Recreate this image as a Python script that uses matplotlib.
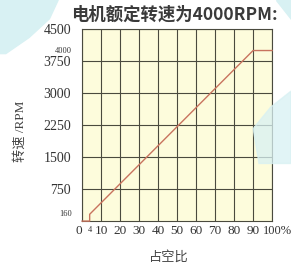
import matplotlib
matplotlib.use('Agg')
import matplotlib.pyplot as plt
from matplotlib.patches import Polygon

plt.rcParams['font.family'] = ['Liberation Serif', 'Noto Sans CJK SC']

# 数据
duty = [0, 4, 4, 90, 100]
rpm = [0, 0, 160, 4000, 4000]
x_ticks = [0, 10, 20, 30, 40, 50, 60, 70, 80, 90, 100]
x_labels = ['0', '10', '20', '30', '40', '50', '60', '70', '80', '90', '100%']
y_ticks = [750, 1500, 2250, 3000, 3750, 4500]
y_small = [160, 4000]

fig = plt.figure(figsize=(2.91, 2.68), dpi=100)
fig.patch.set_facecolor('white')

# 背景的浅蓝色块
blob = '#d8f1f3'
fig.patches.append(Polygon([(0, 1), (0.2, 1), (0.17, 0.93), (0.1, 0.86), (0.02, 0.8), (0, 0.8)],
                           closed=True, transform=fig.transFigure, color=blob, zorder=-1))
fig.patches.append(Polygon([(0.87, 0.52), (0.93, 0.6), (1, 0.66), (1, 0.39), (0.89, 0.39)],
                           closed=True, transform=fig.transFigure, color=blob, alpha=0.75, zorder=5))
fig.patches.append(Polygon([(0.95, 1), (1, 1), (1, 0.93)],
                           closed=True, transform=fig.transFigure, color=blob, zorder=-1))

ax = fig.add_axes([0.282, 0.175, 0.653, 0.716])
ax.set_facecolor('#fdfcdc')
ax.plot(duty, rpm, color='#c8735e', lw=1.0, zorder=3, clip_on=False)

ax.set_xlim(0, 100)
ax.set_ylim(0, 4500)
ax.set_xticks(x_ticks)
# 最后一个标签 100% 单独画, 往左挪一点
ax.set_xticklabels(x_labels[:-1] + [''], fontsize=9.5, color='#333333')
ax.get_xticklabels()[0].set_ha('right')
ax.annotate(x_labels[-1], xy=(x_ticks[-1], 0), xycoords=('data', 'axes fraction'),
            xytext=(-9, -4), textcoords='offset pixels', ha='left', va='top',
            fontsize=9, color='#333333', annotation_clip=False)
ax.set_yticks(y_ticks)
ax.set_yticklabels([str(v) for v in y_ticks], fontsize=10, color='#333333')
ax.tick_params(axis='y', length=0, pad=8)
ax.tick_params(axis='x', length=0, pad=3)
ax.grid(True, color='#4a4a3e', lw=0.8)
ax.set_axisbelow(True)
for s in ax.spines.values():
    s.set_color('#4a4a3e')
    s.set_linewidth(0.8)

# 小号标注
for v in y_small:
    ax.text(-5.5, v, str(v), fontsize=6, ha='right', va='center',
            color='#333333', clip_on=False)
ax.text(4, -120, '4', fontsize=6, ha='center', va='top', color='#333333', clip_on=False)

fig.text(0.6, 0.944, '电机额定转速为4000RPM:', fontsize=12.5, ha='center', va='center',
         family=['Noto Sans CJK SC', 'DejaVu Sans'], weight='bold', color='#3a3a3a')
fig.text(0.07, 0.51, '转速 /RPM', fontsize=9.5, rotation=90, ha='center', va='center',
         family=['Liberation Serif', 'Noto Sans CJK SC'], color='#444444')
fig.text(0.58, 0.04, '占空比', fontsize=9.5, ha='center', va='center',
         family=['Noto Sans CJK SC'], color='#444444')

fig.savefig('out.png', dpi=100)
